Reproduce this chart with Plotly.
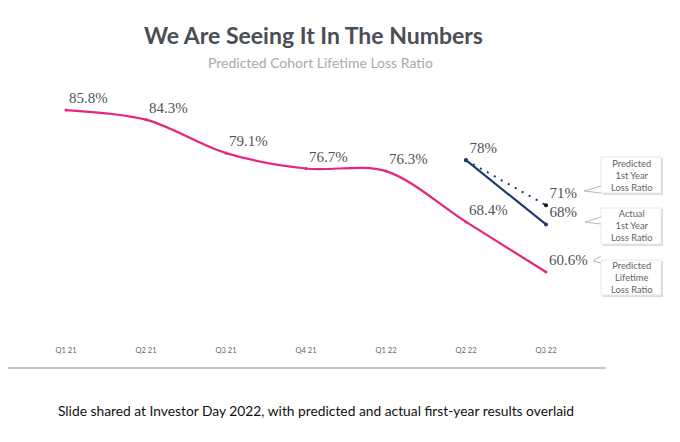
import plotly.graph_objects as go

quarters = ["Q1 21", "Q2 21", "Q3 21", "Q4 21", "Q1 22", "Q2 22", "Q3 22"]
lifetime_loss = [85.8, 84.3, 79.1, 76.7, 76.3, 68.4, 60.6]
first_year_quarters = ["Q2 22", "Q3 22"]
actual_first_year = [78, 68]
predicted_first_year = [78, 71]
box_labels = ["Predicted<br>1st Year<br>Loss Ratio",
              "Actual<br>1st Year<br>Loss Ratio",
              "Predicted<br>Lifetime<br>Loss Ratio"]

# page has an 8px body margin; figure sized to fit inside the window
OFF = 8
W, H = 680 - OFF, 442 - OFF
L, R, T, B = 0, 72, 72, 100
PW, PH = W - L - R, H - T - B

def px(x):
    return (x - OFF - L) / PW

def py(y):
    return (H - B - (y - OFF)) / PH

PINK = "#e8247c"
NAVY = "#1f3a70"
LABEL_FONT = dict(family="Liberation Serif", size=15, color="#4f5359")

fig = go.Figure()

fig.add_trace(go.Scatter(
    x=quarters, y=lifetime_loss, mode="lines+markers+text",
    line=dict(color=PINK, width=2.2, shape="spline", smoothing=0.9),
    marker=dict(size=3, color=PINK),
    text=[f"{v:.1f}%" for v in lifetime_loss], textposition="top right",
    textfont=LABEL_FONT, hoverinfo="skip", cliponaxis=False,
))

fig.add_trace(go.Scatter(
    x=first_year_quarters, y=predicted_first_year, mode="lines+markers+text",
    line=dict(color=NAVY, width=2, dash="2px,6px"),
    marker=dict(size=4, color="#111111"),
    text=["", f"{predicted_first_year[1]:.0f}%"], textposition="top right",
    textfont=LABEL_FONT, hoverinfo="skip", cliponaxis=False,
))

fig.add_trace(go.Scatter(
    x=first_year_quarters, y=actual_first_year, mode="lines+markers+text",
    line=dict(color=NAVY, width=2.2),
    marker=dict(size=4, color=NAVY),
    text=[f"{v:.0f}%" for v in actual_first_year], textposition="top right",
    textfont=LABEL_FONT, hoverinfo="skip", cliponaxis=False,
))

shapes = []
# baseline
shapes.append(dict(type="line", xref="paper", yref="paper",
                   x0=px(6), x1=px(606), y0=py(368), y1=py(368),
                   line=dict(color="#c4c4c4", width=2)))

boxes = [(157, 193, (584, 191)), (208, 244, (585, 222)), (260, 295, (593, 261))]
annotations = []
for (y0, y1, tail), label in zip(boxes, box_labels):
    shapes.append(dict(type="rect", xref="paper", yref="paper",
                       x0=px(603), x1=px(663), y0=py(y0 + 1), y1=py(y1 + 2),
                       fillcolor="#dcdcdc", line=dict(width=0), layer="below"))
    shapes.append(dict(type="rect", xref="paper", yref="paper",
                       x0=px(601), x1=px(661), y0=py(y0), y1=py(y1),
                       fillcolor="white", line=dict(color="#e8e8e8", width=1), layer="below"))
    tx, ty = tail
    shapes.append(dict(type="path", xref="paper", yref="paper",
                       path=f"M {px(601)},{py(ty - 5)} L {px(tx)},{py(ty)} L {px(601)},{py(ty + 2)}",
                       line=dict(color="#b8b8b8", width=1), fillcolor="white"))
    annotations.append(dict(xref="paper", yref="paper", x=px(631), y=py((y0 + y1) / 2),
                            text=label, showarrow=False, align="center",
                            font=dict(family="Lato", size=9.3, color="#5f6368"),
                            xanchor="center", yanchor="middle"))

annotations.append(dict(xref="paper", yref="paper", x=px(313), y=py(35),
                        text="<b>We Are Seeing It In The Numbers</b>", showarrow=False,
                        font=dict(family="Lato", size=23, color="#4a4e55"),
                        xanchor="center", yanchor="middle"))
annotations.append(dict(xref="paper", yref="paper", x=px(320), y=py(62),
                        text="Predicted Cohort Lifetime Loss Ratio", showarrow=False,
                        font=dict(family="Lato", size=14, color="#a9a9a9"),
                        xanchor="center", yanchor="middle"))
annotations.append(dict(xref="paper", yref="paper", x=px(316), y=py(410),
                        text="Slide shared at Investor Day 2022, with predicted and actual first-year results overlaid",
                        showarrow=False,
                        font=dict(family="Lato", size=13.8, color="#111111"),
                        xanchor="center", yanchor="middle"))

fig.update_layout(
    width=W, height=H, margin=dict(l=L, r=R, t=T, b=B),
    paper_bgcolor="white", plot_bgcolor="white",
    showlegend=False, shapes=shapes, annotations=annotations,
    xaxis=dict(type="category", categoryorder="array", categoryarray=quarters,
               range=[-0.725, 6.775], showgrid=False, zeroline=False, showline=False,
               ticks="", ticklabelstandoff=2,
               tickfont=dict(family="Lato", size=7.5, color="#666666"),
               fixedrange=True),
    yaxis=dict(range=[49.72, 90.47], visible=False, fixedrange=True),
)

fig.write_html("out.html")
